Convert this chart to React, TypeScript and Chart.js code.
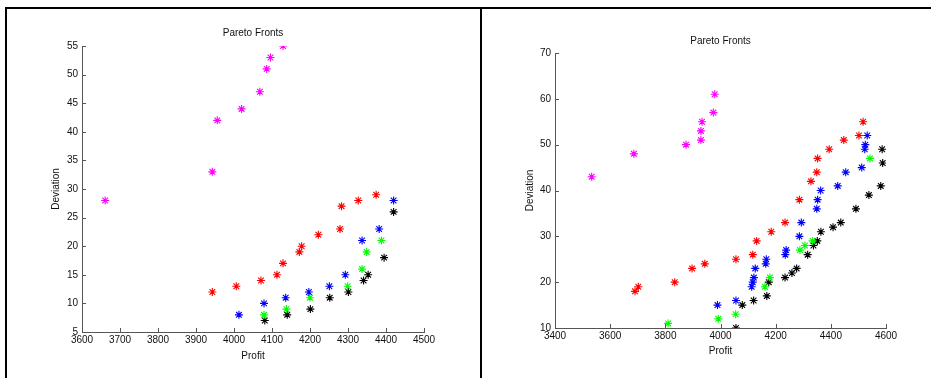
import React, { useEffect, useRef } from "react";
import { Chart, registerables } from "chart.js";

Chart.register(...registerables);

const TITLE = "Pareto Fronts";
const X_LABEL = "Profit";
const Y_LABEL = "Deviation";
const COLORS = ["#ff00ff", "#ff0000", "#0000ff", "#00ff00", "#000000"];

// Tick values
const leftXTicks = [3600, 3700, 3800, 3900, 4000, 4100, 4200, 4300, 4400, 4500];
const leftYTicks = [5, 10, 15, 20, 25, 30, 35, 40, 45, 50, 55];
const rightXTicks = [3400, 3600, 3800, 4000, 4200, 4400, 4600];
const rightYTicks = [10, 20, 30, 40, 50, 60, 70];

// Left panel fronts: [profit, deviation]
const leftMagenta = [[3661, 28], [3943, 33], [3956, 42], [4020, 44], [4068, 47], [4086, 51], [4096, 53], [4129, 55]];
const leftRed = [[3943, 12], [4006, 13], [4071, 14], [4113, 15], [4129, 17], [4172, 19], [4178, 20], [4222, 22], [4279, 23], [4283, 27], [4327, 28], [4374, 29]];
const leftBlue = [[4013, 8], [4079, 10], [4136, 11], [4197, 12], [4251, 13], [4293, 15], [4337, 21], [4382, 23], [4420, 28]];
const leftGreen = [[4079, 8], [4138, 9], [4200, 11], [4299, 13], [4337, 16], [4349, 19], [4388, 21]];
const leftBlack = [[4081, 7], [4140, 8], [4201, 9], [4252, 11], [4301, 12], [4341, 14], [4353, 15], [4395, 18], [4420, 26]];

// Right panel fronts: [profit, deviation]
const rightMagenta = [[3533, 43], [3686, 48], [3875, 50], [3929, 51], [3929, 53], [3933, 55], [3974, 57], [3979, 61]];
const rightRed = [[3690, 18], [3702, 19], [3834, 20], [3897, 23], [3943, 24], [4056, 25], [4117, 26], [4131, 29], [4184, 31], [4234, 33], [4286, 38], [4328, 42], [4349, 44], [4352, 47], [4394, 49], [4447, 51], [4502, 52], [4517, 55]];
const rightBlue = [[3989, 15], [4056, 16], [4113, 19], [4117, 20], [4121, 21], [4126, 23], [4164, 24], [4166, 25], [4235, 26], [4238, 27], [4286, 30], [4293, 33], [4349, 36], [4352, 38], [4363, 40], [4425, 41], [4454, 44], [4512, 45], [4523, 49], [4525, 50], [4532, 52]];
const rightGreen = [[3810, 11], [3992, 12], [4055, 13], [4161, 19], [4179, 21], [4288, 27], [4306, 28], [4334, 29], [4542, 47]];
const rightBlack = [[4056, 10], [4079, 15], [4120, 16], [4168, 17], [4175, 20], [4234, 21], [4259, 22], [4276, 23], [4316, 26], [4337, 28], [4351, 29], [4364, 31], [4408, 32], [4436, 33], [4491, 36], [4538, 39], [4581, 41], [4588, 46], [4586, 49]];

const FONT = { family: "'Liberation Sans', Arial, sans-serif", size: 10 };
const AXIS_COLOR = "#555555";

const inwardTicks = {
  id: "inwardTicks",
  afterDraw(chart: any) {
    const { ctx, chartArea, scales } = chart;
    ctx.save();
    ctx.strokeStyle = AXIS_COLOR;
    ctx.lineWidth = 1;
    ctx.beginPath();
    scales.x.ticks.forEach((t: any) => {
      const px = Math.round(scales.x.getPixelForValue(t.value)) + 0.5;
      ctx.moveTo(px, chartArea.bottom);
      ctx.lineTo(px, chartArea.bottom - 4);
    });
    scales.y.ticks.forEach((t: any) => {
      const py = Math.round(scales.y.getPixelForValue(t.value)) + 0.5;
      ctx.moveTo(chartArea.left, py);
      ctx.lineTo(chartArea.left + 4, py);
    });
    ctx.stroke();
    ctx.restore();
  },
};

type PanelProps = {
  series: number[][][];
  xTicks: number[];
  yTicks: number[];
  width: number;
  height: number;
  pad: { top: number; right: number; bottom: number; left: number };
  titleGap: number;
  yWidth: number;
  xHeight: number;
};

function ParetoPanel(p: PanelProps) {
  const ref = useRef<HTMLCanvasElement>(null);
  useEffect(() => {
    if (!ref.current) return;
    const chart = new Chart(ref.current, {
      type: "scatter",
      data: {
        datasets: p.series.map((pts, i) => ({
          label: "front " + (i + 1),
          data: pts.map(([x, y]) => ({ x, y })),
          pointStyle: "star",
          pointRadius: 4,
          pointHoverRadius: 4,
          borderWidth: 1.1,
          borderColor: COLORS[i],
          backgroundColor: COLORS[i],
          showLine: false,
        })),
      },
      options: {
        animation: false,
        responsive: false,
        events: [],
        layout: { padding: p.pad },
        plugins: {
          legend: { display: false },
          tooltip: { enabled: false },
          title: {
            display: true,
            text: TITLE,
            color: "#111",
            font: { ...FONT, weight: "normal" },
            fullSize: false,
            padding: { top: 0, bottom: p.titleGap },
          },
        },
        scales: {
          x: {
            type: "linear",
            min: p.xTicks[0],
            max: p.xTicks[p.xTicks.length - 1],
            afterBuildTicks: (s: any) => {
              s.ticks = p.xTicks.map((v) => ({ value: v }));
            },
            afterFit: (s: any) => {
              s.height = p.xHeight;
            },
            grid: { display: false, drawTicks: false },
            border: { display: true, color: AXIS_COLOR, width: 1 },
            ticks: { color: "#111", font: FONT, padding: 2, maxRotation: 0, autoSkip: false, callback: (v: any) => String(v) },
            title: { display: true, text: X_LABEL, color: "#111", font: FONT, padding: 0 },
          },
          y: {
            type: "linear",
            min: p.yTicks[0],
            max: p.yTicks[p.yTicks.length - 1],
            afterBuildTicks: (s: any) => {
              s.ticks = p.yTicks.map((v) => ({ value: v }));
            },
            afterFit: (s: any) => {
              s.width = p.yWidth;
            },
            grid: { display: false, drawTicks: false },
            border: { display: true, color: AXIS_COLOR, width: 1 },
            ticks: { color: "#111", font: FONT, padding: 4, autoSkip: false, callback: (v: any) => String(v) },
            title: { display: true, text: Y_LABEL, color: "#111", font: FONT, padding: 0 },
          },
        },
      },
      plugins: [inwardTicks],
    } as any);
    return () => chart.destroy();
  }, []);
  return <canvas ref={ref} width={p.width} height={p.height} style={{ width: p.width, height: p.height, display: "block" }} />;
}

export default function App() {
  return (
    <div style={{ position: "absolute", left: 0, top: 0, width: 931, height: 378, background: "#fff", overflow: "hidden" }}>
      <div style={{ position: "absolute", left: 8, top: 9 }}>
        <ParetoPanel
          series={[leftMagenta, leftRed, leftBlue, leftGreen, leftBlack]}
          xTicks={leftXTicks}
          yTicks={leftYTicks}
          width={470}
          height={369}
          pad={{ top: 18, right: 54, bottom: 16, left: 42 }}
          titleGap={7}
          yWidth={32}
          xHeight={30}
        />
      </div>
      <div style={{ position: "absolute", left: 483, top: 9 }}>
        <ParetoPanel
          series={[rightMagenta, rightRed, rightBlue, rightGreen, rightBlack]}
          xTicks={rightXTicks}
          yTicks={rightYTicks}
          width={448}
          height={369}
          pad={{ top: 26, right: 45, bottom: 21, left: 41 }}
          titleGap={6}
          yWidth={31}
          xHeight={29}
        />
      </div>
      <div style={{ position: "absolute", left: 5, top: 7, width: 926, height: 2, background: "#000" }} />
      <div style={{ position: "absolute", left: 5, top: 7, width: 2, height: 371, background: "#000" }} />
      <div style={{ position: "absolute", left: 480, top: 7, width: 2, height: 371, background: "#000" }} />
    </div>
  );
}
